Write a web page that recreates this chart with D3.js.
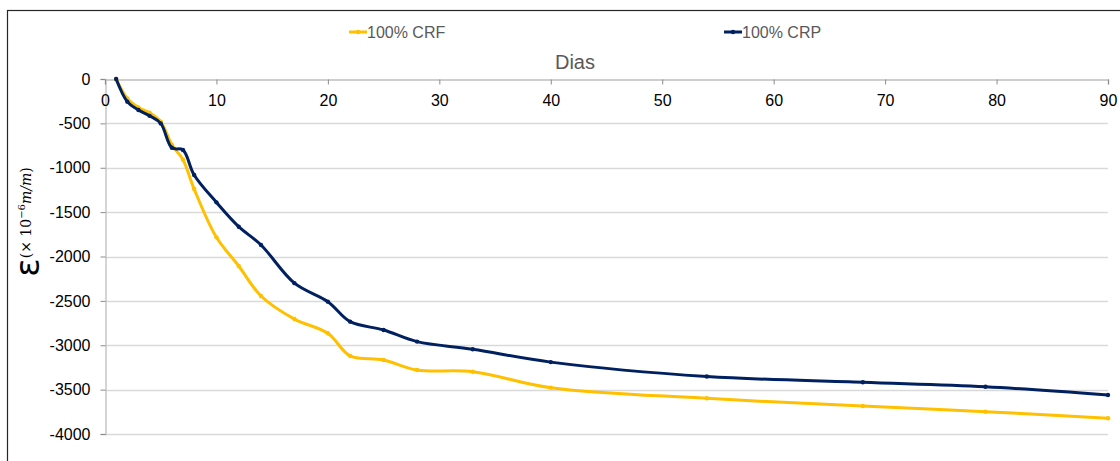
<!DOCTYPE html>
<html>
<head>
<meta charset="utf-8">
<script src="https://cdn.jsdelivr.net/npm/d3@7"></script>
<style>
  html, body { margin: 0; padding: 0; background: #fff; }
  svg { display: block; }
</style>
</head>
<body>
<svg id="chart" width="1120" height="461"></svg>
<script>
// Strain (×10⁻⁶ m/m) against age in days for the two mixes
const days   = [1, 2, 3, 4, 5, 6, 7, 8, 10, 12, 14, 17, 20, 22, 25, 28, 33, 40, 54, 68, 79, 90];
const crf    = [0, -220, -320, -380, -480, -740, -910, -1240, -1784, -2107, -2445, -2705, -2865, -3120, -3166, -3279, -3298, -3478, -3598, -3685, -3748, -3823];
const crp    = [0, -255, -350, -415, -500, -775, -800, -1082, -1390, -1664, -1870, -2300, -2509, -2734, -2828, -2959, -3045, -3190, -3352, -3417, -3468, -3561];
const xTicks = [0, 10, 20, 30, 40, 50, 60, 70, 80, 90];
const yTicks = [0, -500, -1000, -1500, -2000, -2500, -3000, -3500, -4000];
const seriesNames  = ["100% CRF", "100% CRP"];
const seriesColors = ["#FFC000", "#002060"];

const svg = d3.select("#chart");
const font = "'Liberation Sans', Arial, sans-serif";

// outer frame (extends past the right and bottom edges)
svg.append("rect")
  .attr("x", 7.5).attr("y", 10.5)
  .attr("width", 1200).attr("height", 600)
  .attr("fill", "none").attr("stroke", "#262626").attr("stroke-width", 1.2);

const x = d3.scaleLinear().domain([0, 90]).range([105, 1108]);
const y = d3.scaleLinear().domain([0, -4000]).range([79, 434]);

// horizontal gridlines
svg.append("g").selectAll("line")
  .data(yTicks.filter(v => v !== 0))
  .join("line")
  .attr("x1", x(0)).attr("x2", x(90))
  .attr("y1", d => Math.round(y(d)) + 0.5).attr("y2", d => Math.round(y(d)) + 0.5)
  .attr("stroke", "#d9d9d9").attr("stroke-width", 1.3);

// y axis on the left
const yAxis = svg.append("g")
  .attr("transform", `translate(${x(0) + 0.5},0)`)
  .call(d3.axisLeft(y).tickValues(yTicks).tickSize(5).tickPadding(10).tickFormat(d3.format("d")));
yAxis.select(".domain").attr("stroke", "#bfbfbf").attr("stroke-width", 1.3);
yAxis.selectAll(".tick line").attr("stroke", "#8c8c8c");
yAxis.selectAll(".tick text")
  .attr("fill", "#000").attr("font-family", font).attr("font-size", 16)
  .text(d => d === 0 ? "0" : String(d).replace("−", "-"));

// x axis along the zero line, labels below
const xAxis = svg.append("g")
  .attr("transform", `translate(0,${y(0) + 0.5})`)
  .call(d3.axisBottom(x).tickValues(xTicks).tickSize(5).tickPadding(10));
xAxis.select(".domain").attr("stroke", "#bfbfbf").attr("stroke-width", 1.5);
xAxis.selectAll(".tick line").attr("stroke", "#8c8c8c");
xAxis.selectAll(".tick text")
  .attr("fill", "#000").attr("font-family", font).attr("font-size", 16);

// x axis title
svg.append("text")
  .attr("x", 575).attr("y", 69)
  .attr("text-anchor", "middle")
  .attr("font-family", font).attr("font-size", 20).attr("fill", "#595959")
  .text("Dias");

// y axis title
const yTitle = svg.append("text")
  .attr("transform", "translate(39,222) rotate(-90)")
  .attr("text-anchor", "middle")
  .attr("fill", "#000");
yTitle.append("tspan")
  .attr("font-family", "'DejaVu Sans', sans-serif").attr("font-size", 34)
  .text("ε");
yTitle.append("tspan")
  .attr("font-family", "'DejaVu Serif', serif").attr("font-size", 14).attr("dy", -8)
  .text("(× 10");
yTitle.append("tspan")
  .attr("font-family", "'DejaVu Serif', serif").attr("font-size", 10).attr("dy", -6)
  .text("−6");
yTitle.append("tspan")
  .attr("font-family", "'DejaVu Serif', serif").attr("font-style", "italic").attr("font-size", 14).attr("dy", 6)
  .text("m/m");
yTitle.append("tspan")
  .attr("font-family", "'DejaVu Serif', serif").attr("font-size", 14)
  .text(")");

// series
const seriesData = [crf, crp];
const line = d3.line()
  .x(d => x(d[0])).y(d => y(d[1]))
  .curve(d3.curveCatmullRom.alpha(0.5));

seriesData.forEach((vals, i) => {
  const pts = days.map((d, j) => [d, vals[j]]);
  const g = svg.append("g");
  g.append("path")
    .datum(pts)
    .attr("d", line)
    .attr("fill", "none")
    .attr("stroke", seriesColors[i])
    .attr("stroke-width", 3)
    .attr("stroke-linejoin", "round");
  g.selectAll("circle")
    .data(pts)
    .join("circle")
    .attr("cx", d => x(d[0])).attr("cy", d => y(d[1]))
    .attr("r", 2.2)
    .attr("fill", seriesColors[i]);
});

// legend
const legendX = [349, 724];
seriesNames.forEach((name, i) => {
  const g = svg.append("g").attr("transform", `translate(${legendX[i]},32)`);
  g.append("line")
    .attr("x1", 0).attr("x2", 18).attr("y1", 0).attr("y2", 0)
    .attr("stroke", seriesColors[i]).attr("stroke-width", 3);
  g.append("circle").attr("cx", 9).attr("cy", 0).attr("r", 2.2).attr("fill", seriesColors[i]);
  g.append("text")
    .attr("x", 18).attr("y", 5.5)
    .attr("font-family", font).attr("font-size", 16).attr("fill", "#595959")
    .text(name);
});
</script>
</body>
</html>
